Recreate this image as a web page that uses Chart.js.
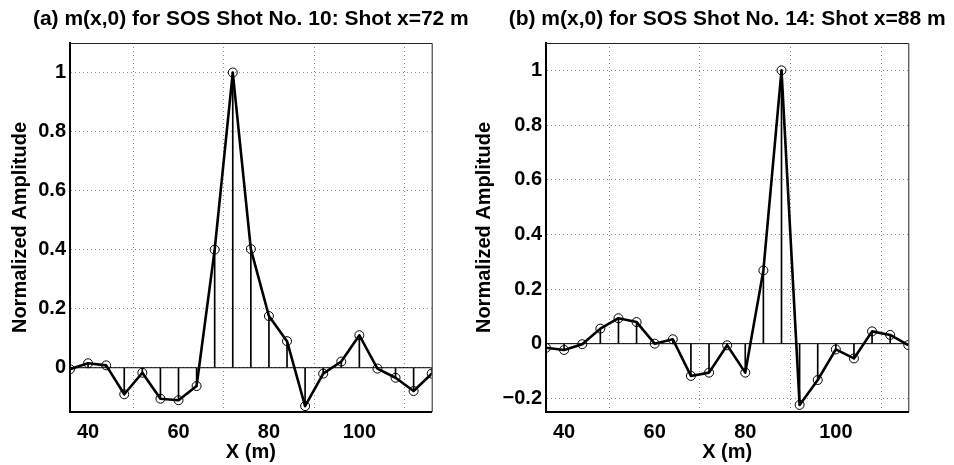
<!DOCTYPE html>
<html>
<head>
<meta charset="utf-8">
<script src="https://cdn.jsdelivr.net/npm/chart.js@4.4.1/dist/chart.umd.min.js"></script>
<style>
  body { margin: 0; background: #fff; }
  canvas { position: absolute; top: 0; }
  #chartA { left: 0; }
  #chartB { left: 466px; }
</style>
</head>
<body>
<canvas id="chartA" width="480" height="465"></canvas>
<canvas id="chartB" width="488" height="465"></canvas>
<script>
// receiver positions (m)
const xPos = [36, 40, 44, 48, 52, 56, 60, 64, 68, 72, 76, 80, 84, 88, 92, 96, 100, 104, 108, 112, 116];

// normalized m(x,0), shot No. 10 (x=72 m)
const ampA = [-0.005, 0.015, 0.008, -0.09, -0.017, -0.105, -0.11, -0.062, 0.4, 1.0, 0.402,
  0.175, 0.09, -0.13, -0.02, 0.021, 0.11, -0.003, -0.034, -0.079, -0.02];

// normalized m(x,0), shot No. 14 (x=88 m)
const ampB = [-0.015, -0.023, -0.002, 0.055, 0.093, 0.079, 0, 0.016, -0.118, -0.106, -0.006,
  -0.106, 0.268, 1.0, -0.224, -0.133, -0.021, -0.054, 0.045, 0.032, -0.005];

const xTicks = [40, 60, 80, 100];
const xTickLabels = ["40", "60", "80", "100"];
const yTicksA = [0, 0.2, 0.4, 0.6, 0.8, 1];
const yTickLabelsA = ["0", "0.2", "0.4", "0.6", "0.8", "1"];
const yTicksB = [-0.2, 0, 0.2, 0.4, 0.6, 0.8, 1];
const yTickLabelsB = ["\u22120.2", "0", "0.2", "0.4", "0.6", "0.8", "1"];

const titleA = "(a) m(x,0) for SOS Shot No. 10: Shot x=72 m";
const titleB = "(b) m(x,0) for SOS Shot No. 14: Shot x=88 m";

const FONT = "'Liberation Sans', Arial, Helvetica, sans-serif";

// title centred over the axes box + thin top/right frame lines
// (left/bottom frame come from the axis borders)
const framePlugin = {
  id: "frame",
  afterDraw(chart) {
    const { ctx, chartArea: a } = chart;
    ctx.save();
    ctx.strokeStyle = "#222";
    ctx.lineWidth = 1;
    ctx.beginPath();
    ctx.moveTo(a.left, a.top + 0.5);
    ctx.lineTo(a.right + 0.5, a.top + 0.5);
    ctx.lineTo(a.right + 0.5, a.bottom);
    ctx.stroke();

    ctx.fillStyle = "#000";
    ctx.font = "bold 21px " + FONT;
    ctx.textAlign = "center";
    ctx.textBaseline = "middle";
    ctx.fillText(chart.options.plugins.frame.text, (a.left + a.right) / 2, 19);
    ctx.restore();
  },
};

function makeChart(id, amp, yTicks, yLabels, yMin, yMax, title, axisW, padRight, yTitlePad) {
  const pts = xPos.map((x, i) => ({ x: x, y: amp[i] }));
  const ctx = document.getElementById(id).getContext("2d");
  return new Chart(ctx, {
    type: "bar",
    data: {
      datasets: [
        {
          type: "line",
          data: pts,
          borderColor: "#000",
          borderWidth: 2.6,
          borderJoinStyle: "round",
          pointRadius: 4.5,
          pointBorderWidth: 1,
          pointBorderColor: "#000",
          pointBackgroundColor: "rgba(0,0,0,0)",
          tension: 0,
          order: 1,
        },
        {
          type: "line",
          data: [{ x: xPos[0], y: 0 }, { x: xPos[xPos.length - 1], y: 0 }],
          borderColor: "#000",
          borderWidth: 1,
          pointRadius: 0,
          order: 2,
        },
        {
          type: "bar",
          data: pts,
          backgroundColor: "#000",
          barThickness: 1,
          order: 3,
        },
      ],
    },
    options: {
      responsive: false,
      animation: false,
      layout: { padding: { left: 0, right: padRight, top: 43, bottom: 0 } },
      plugins: {
        legend: { display: false },
        tooltip: { enabled: false },
        title: { display: false },
        frame: { text: title },
      },
      scales: {
        x: {
          type: "linear",
          min: 36,
          max: 116,
          offset: false,
          afterBuildTicks: (s) => { s.ticks = xTicks.map((v) => ({ value: v })); },
          afterFit: (s) => { s.height = 53; },
          ticks: {
            color: "#000",
            padding: 8,
            maxRotation: 0,
            font: { family: FONT, size: 20, weight: "bold" },
            callback: (v, i) => xTickLabels[i],
          },
          grid: { color: "#8a8a8a", lineWidth: 1, drawTicks: false },
          border: { display: true, color: "#000", width: 2, dash: [1, 3] },
          title: {
            display: true,
            text: "X (m)",
            color: "#000",
            font: { family: FONT, size: 20, weight: "bold" },
            padding: { top: 0, bottom: 0.5 },
          },
        },
        y: {
          type: "linear",
          min: yMin,
          max: yMax,
          afterBuildTicks: (s) => { s.ticks = yTicks.map((v) => ({ value: v })); },
          afterFit: (s) => { s.width = axisW; },
          ticks: {
            color: "#000",
            padding: 4,
            font: { family: FONT, size: 20, weight: "bold" },
            callback: (v, i) => yLabels[i],
          },
          grid: { color: "#8a8a8a", lineWidth: 1, drawTicks: false },
          border: { display: true, color: "#000", width: 2, dash: [1, 3] },
          title: {
            display: true,
            text: "Normalized Amplitude",
            color: "#000",
            font: { family: FONT, size: 20, weight: "bold" },
            padding: { top: yTitlePad, bottom: 0 },
          },
        },
      },
    },
    plugins: [framePlugin],
  });
}

makeChart("chartA", ampA, yTicksA, yTickLabelsA, -0.15, 1.1, titleA, 70, 48.3, 8.5);
makeChart("chartB", ampB, yTicksB, yTickLabelsB, -0.25, 1.1, titleB, 80, 45.7, 6);
</script>
</body>
</html>
